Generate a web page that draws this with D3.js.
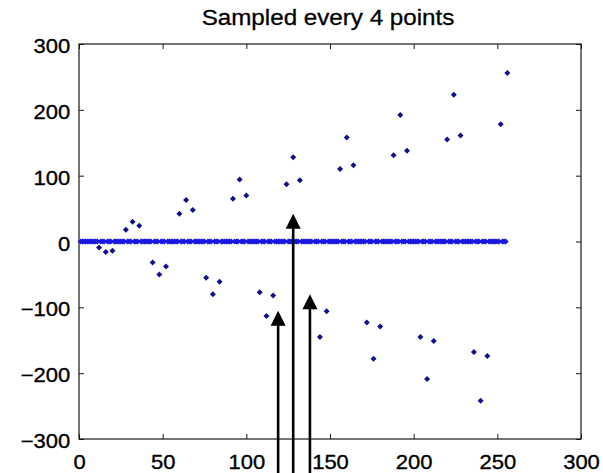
<!DOCTYPE html>
<html>
<head>
<meta charset="utf-8">
<script src="https://cdn.jsdelivr.net/npm/d3@7"></script>
<style>
  html, body { margin: 0; padding: 0; background: #fff; }
  svg { display: block; font-family: "Liberation Sans", Arial, Helvetica, sans-serif; }
</style>
</head>
<body>
<div id="canvas"></div>
<script>
"use strict";

/* -------------------- Data -------------------- */

/* sample index axis: the signal has 256 samples */
let sampleIdx = d3.range(1, 257);

/* samples kept on the upper branch */
let posX = [28, 32, 36, 60, 64, 68, 92, 96, 100, 124, 128, 132,
            156, 160, 164, 188, 192, 196, 220, 224, 228, 252, 256];
let posY = [18, 30, 24, 42, 63, 48, 65, 94, 70, 87, 128, 93,
            110, 158, 116, 131, 192, 138, 155, 223, 161, 178, 256];

/* samples kept on the lower branch */
let negX = [12, 16, 20, 44, 48, 52, 76, 80, 84, 108, 112, 116,
            140, 144, 148, 172, 176, 180, 204, 208, 212, 236, 240, 244];
let negY = [-9, -16, -14, -32, -50, -38, -55, -80, -61, -77, -113, -82,
            -99, -145, -106, -123, -178, -129, -145, -209, -151, -168, -242, -174];

/* annotation arrows (x position, y of the tip) */
let arrowX = [119, 128, 138];
let arrowTip = [-105, 42, -80];

let xTicks = [0, 50, 100, 150, 200, 250, 300];
let yTicks = [-300, -200, -100, 0, 100, 200, 300];
let title = "Sampled every 4 points";

/* -------------------- Setup -------------------- */

let svgWidth = 603;
let svgHeight = 473;
let plotLeft = 79, plotRight = 581, plotTop = 44, plotBottom = 439;
let stretch = 1.1;

let svg = d3.select("#canvas")
    .append("svg")
    .attr("width", svgWidth)
    .attr("height", svgHeight);

let xScale = d3.scaleLinear().domain([0, 300]).range([plotLeft, plotRight]);
let yScale = d3.scaleLinear().domain([-300, 300]).range([plotBottom, plotTop]);

/* -------------------- Axes -------------------- */

let axisColor = "#1a1a1a";

function styleAxis(g) {
    g.select(".domain").remove();
    g.selectAll(".tick line").attr("stroke", axisColor);
    g.selectAll("text")
        .attr("fill", "#000")
        .attr("stroke", "#000")
        .attr("stroke-width", 0.35)
        .style("font-size", "20px");
}

let gx = svg.append("g")
    .attr("transform", "translate(0," + plotBottom + ")")
    .call(d3.axisBottom(xScale).tickValues(xTicks).tickSize(-5).tickPadding(16))
    .call(styleAxis);
gx.selectAll("text").attr("transform", "scale(" + stretch + ",1)");

let gy = svg.append("g")
    .attr("transform", "translate(" + plotLeft + ",0)")
    .call(d3.axisLeft(yScale).tickValues(yTicks).tickSize(-5).tickPadding(8))
    .call(styleAxis);
gy.selectAll("text")
    .attr("dy", "0.43em")
    .attr("transform", "scale(" + stretch + ",1)");

/* mirrored ticks on top and right, no labels */
svg.append("g")
    .attr("transform", "translate(0," + plotTop + ")")
    .call(d3.axisTop(xScale).tickValues(xTicks).tickSize(-5).tickFormat(""))
    .call(styleAxis);

svg.append("g")
    .attr("transform", "translate(" + plotRight + ",0)")
    .call(d3.axisRight(yScale).tickValues(yTicks).tickSize(-5).tickFormat(""))
    .call(styleAxis);

/* axes box */
svg.append("rect")
    .attr("x", plotLeft)
    .attr("y", plotTop)
    .attr("width", plotRight - plotLeft)
    .attr("height", plotBottom - plotTop)
    .attr("fill", "none")
    .attr("stroke", axisColor)
    .attr("stroke-width", 1.2);

/* -------------------- Points -------------------- */

let kept = new Set(posX.concat(negX));
let zeroPts = sampleIdx.filter(function (d) { return !kept.has(d); });

let marker = "M0,-3L3,0L0,3L-3,0Z";

svg.selectAll("path.zero")
    .data(zeroPts)
    .join("path")
    .attr("class", "zero")
    .attr("d", marker)
    .attr("transform", function (d) {
        return "translate(" + xScale(d) + "," + yScale(0) + ")";
    })
    .attr("fill", "#1818e0");

let pts = posX.map(function (x, i) { return { x: x, y: posY[i] }; })
    .concat(negX.map(function (x, i) { return { x: x, y: negY[i] }; }));

svg.selectAll("path.pt")
    .data(pts)
    .join("path")
    .attr("class", "pt")
    .attr("d", marker)
    .attr("transform", function (d) {
        return "translate(" + xScale(d.x) + "," + yScale(d.y) + ")";
    })
    .attr("fill", "#10108c");

/* -------------------- Arrows -------------------- */

let headLen = 15, headHalf = 7.5;

arrowX.forEach(function (x, i) {
    let ax = xScale(x);
    let ty = yScale(arrowTip[i]);
    svg.append("line")
        .attr("x1", ax).attr("x2", ax)
        .attr("y1", ty + headLen - 1)
        .attr("y2", svgHeight + 2)
        .attr("stroke", "#000")
        .attr("stroke-width", 2.6);
    svg.append("path")
        .attr("d", "M" + ax + "," + ty +
            "L" + (ax + headHalf) + "," + (ty + headLen) +
            "L" + (ax - headHalf) + "," + (ty + headLen) + "Z")
        .attr("fill", "#000");
});

/* -------------------- Title -------------------- */

svg.append("text")
    .attr("transform", "translate(" + ((plotLeft + plotRight) / 2 - 2) + ",25) scale(" + stretch + ",1)")
    .attr("text-anchor", "middle")
    .style("font-size", "22px")
    .attr("fill", "#000")
    .attr("stroke", "#000")
    .attr("stroke-width", 0.3)
    .text(title);
</script>
</body>
</html>
